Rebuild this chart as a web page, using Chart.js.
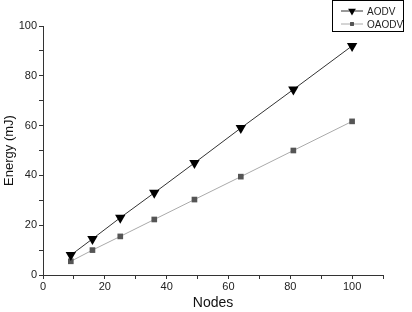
<!DOCTYPE html>
<html>
<head>
<meta charset="utf-8">
<script src="https://cdn.jsdelivr.net/npm/chart.js@4/dist/chart.umd.min.js"></script>
<style>
  html, body { margin: 0; padding: 0; background: #fff; }
  #wrap { width: 412px; height: 312px; }
</style>
</head>
<body>
<div id="wrap"><canvas id="energyChart"></canvas></div>
<script>
const nodes = [9, 16, 25, 36, 49, 64, 81, 100];
const aodv = [8, 14.5, 23, 33, 45, 59, 74.5, 92];
const oaodv = [5.5, 10, 15.5, 22.3, 30.3, 39.5, 50, 61.7];
const xTicks = [0, 20, 40, 60, 80, 100];
const yTicks = [0, 20, 40, 60, 80, 100];

const FONT = "'Liberation Sans', Arial, sans-serif";

// legend box top-right, Origin style
const boxLegend = {
    id: 'boxLegend',
    afterDraw(chart) {
        const ctx = chart.ctx;
        const x = 332, y = 0.5, w = 71, h = 31;
        ctx.save();
        ctx.fillStyle = '#fff';
        ctx.fillRect(x, y, w, h);
        ctx.strokeStyle = '#000';
        ctx.lineWidth = 1;
        ctx.strokeRect(x + 0.5, y, w, h);
        ctx.font = '10px ' + FONT;
        ctx.textBaseline = 'middle';
        chart.data.datasets.forEach(function(ds, i){
            const cy = y + 10.5 + i * 13;
            ctx.strokeStyle = ds.borderColor;
            ctx.lineWidth = 1;
            ctx.beginPath();
            ctx.moveTo(x + 9, cy);
            ctx.lineTo(x + 31, cy);
            ctx.stroke();
            Chart.helpers.drawPoint(ctx, {
                pointStyle: ds.pointStyle,
                radius: ds.pointRadius - 1.5,
                rotation: ds.pointRotation || 0,
                borderWidth: 0
            }, x + 20, cy);
            ctx.fillStyle = ds.pointBackgroundColor;
            ctx.fill();
            ctx.fillStyle = '#222';
            ctx.fillText(ds.label, x + 35, cy + 1);
        });
        ctx.restore();
    }
};

new Chart(document.getElementById('energyChart'), {
    type: 'line',
    data: {
        datasets: [{
            label: 'AODV',
            data: nodes.map(function(n, i){ return {x: n, y: aodv[i]}; }),
            borderColor: '#333',
            borderWidth: 1,
            pointStyle: 'triangle',
            pointRotation: 180,
            pointRadius: 6,
            pointBackgroundColor: '#000',
            pointBorderColor: '#000',
            pointBorderWidth: 0
        }, {
            label: 'OAODV',
            data: nodes.map(function(n, i){ return {x: n, y: oaodv[i]}; }),
            borderColor: '#aaa',
            borderWidth: 1,
            pointStyle: 'rect',
            pointRadius: 4,
            pointBackgroundColor: '#555',
            pointBorderColor: '#555',
            pointBorderWidth: 0
        }]
    },
    options: {
        responsive: true,
        maintainAspectRatio: false,
        animation: false,
        layout: { padding: { top: 26, right: 29, left: 2, bottom: 0 } },
        plugins: { legend: { display: false }, tooltip: { enabled: false } },
        scales: {
            x: {
                type: 'linear',
                min: 0, max: 110,
                afterFit: function(s){ s.height = 37; },
                border: { color: '#333', width: 1 },
                grid: { drawOnChartArea: false, tickLength: 4, color: '#333' },
                ticks: {
                    stepSize: 10, color: '#222', padding: 1,
                    font: { family: FONT, size: 11 },
                    maxRotation: 0, autoSkip: false,
                    callback: function(v){ return xTicks.includes(v) ? v : ''; }
                },
                title: { display: true, text: 'Nodes', color: '#111',
                    font: { family: FONT, size: 14 }, padding: { top: 3, bottom: 0 } }
            },
            y: {
                min: 0, max: 100,
                afterFit: function(s){ s.width = 41; },
                border: { color: '#333', width: 1 },
                grid: { drawOnChartArea: false, tickLength: 4, color: '#333' },
                ticks: {
                    stepSize: 10, color: '#222', padding: 2,
                    font: { family: FONT, size: 11 },
                    autoSkip: false,
                    callback: function(v){ return yTicks.includes(v) ? v : ''; }
                },
                title: { display: true, text: 'Energy (mJ)', color: '#111',
                    font: { family: FONT, size: 13 }, padding: { top: 0, bottom: 0 } }
            }
        }
    },
    plugins: [boxLegend]
});
</script>
</body>
</html>
